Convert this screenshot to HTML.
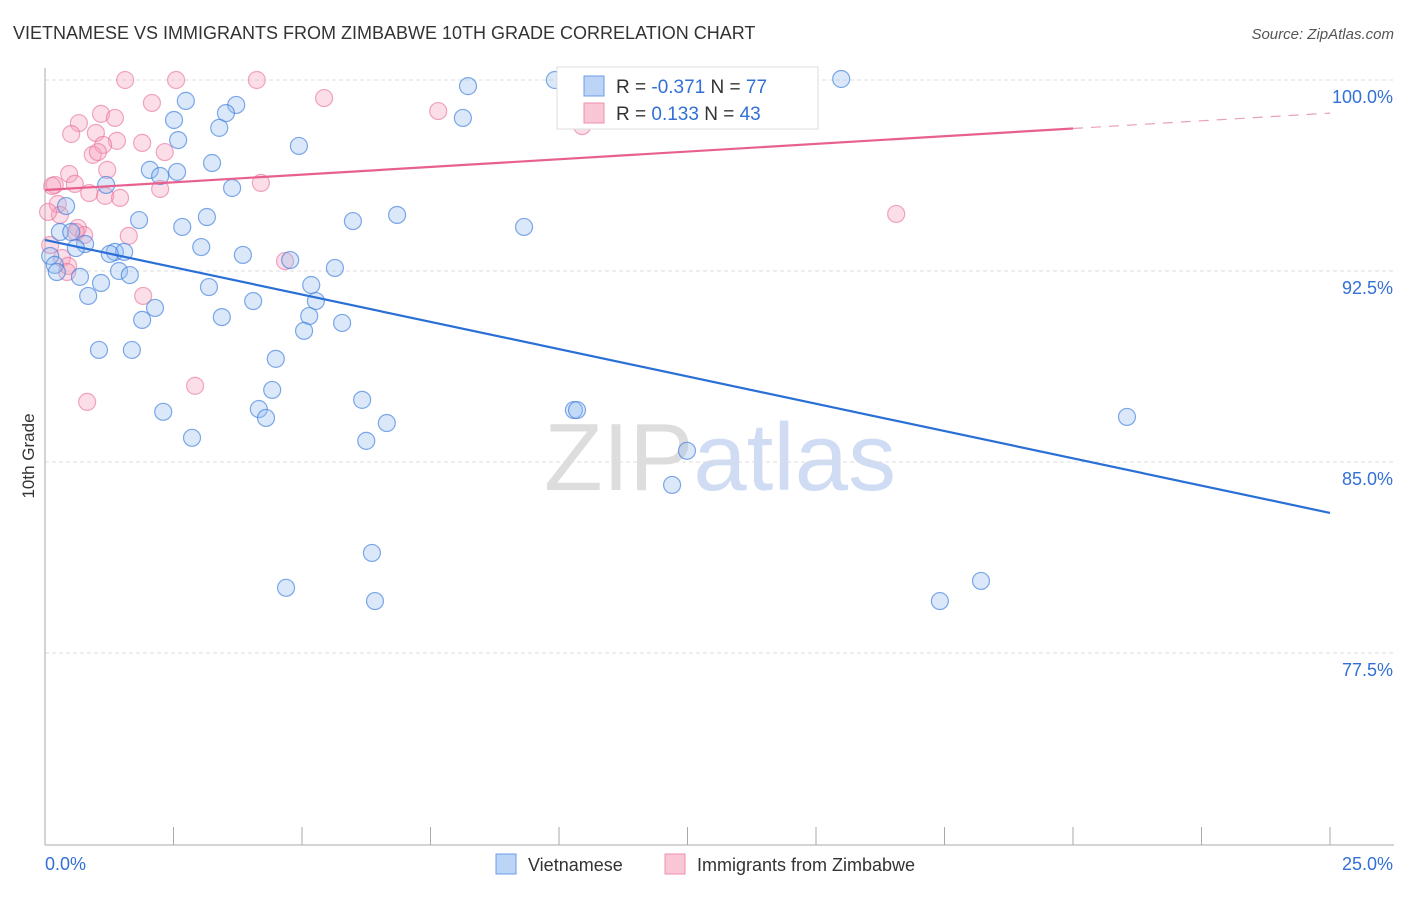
<!DOCTYPE html>
<html><head><meta charset="utf-8"><style>
body{margin:0;background:#fff;font-family:"Liberation Sans",sans-serif;}
svg text{font-family:"Liberation Sans",sans-serif;}
</style></head><body>
<svg id="chart" width="1406" height="892" xmlns="http://www.w3.org/2000/svg">
<text x="13" y="39" font-size="18" fill="#333">VIETNAMESE VS IMMIGRANTS FROM ZIMBABWE 10TH GRADE CORRELATION CHART</text>
<text x="1394" y="39" font-size="15" fill="#555" text-anchor="end" font-style="italic">Source: ZipAtlas.com</text>
<text x="720" y="490" font-size="96" fill="#ddd" text-anchor="middle" font-family="Liberation Serif">ZIP<tspan fill="#cfdcf3" font-family="Liberation Sans">atlas</tspan></text>
<g id="grid"></g>
<g id="axes"></g>
<g id="pts"></g>
<g id="lines"></g>
<text transform="translate(34,456) rotate(-90)" font-size="17" fill="#333" text-anchor="middle">10th Grade</text>
<g>
<rect x="557" y="67" width="261" height="62" fill="#fff" stroke="#ddd"/>
<rect x="584" y="76" width="20" height="20" fill="#bcd4f5" stroke="#6d9de6"/>
<rect x="584" y="103" width="20" height="20" fill="#f9c6d5" stroke="#ee8fab"/>
<text x="616" y="93" font-size="19" fill="#333">R = <tspan fill="#3370d6">-0.371</tspan>   N = <tspan fill="#3370d6">77</tspan></text>
<text x="616" y="120" font-size="19" fill="#333">R =  <tspan fill="#3370d6"> 0.133</tspan>   N = <tspan fill="#3370d6">43</tspan></text>
</g>
<g>
<rect x="496" y="854" width="20" height="20" fill="#bcd4f5" stroke="#6d9de6"/>
<text x="528" y="871" font-size="18" fill="#333">Vietnamese</text>
<rect x="665" y="854" width="20" height="20" fill="#f9c6d5" stroke="#ee8fab"/>
<text x="697" y="871" font-size="18" fill="#333">Immigrants from Zimbabwe</text>
</g>
</svg>
<script>
const blueX=[9.92,15.49,8.23,2.74,3.72,3.52,8.13,2.51,3.39,2.59,4.94,3.25,2.04,2.57,2.24,1.19,3.64,0.41,1.83,3.15,5.99,6.85,9.32,2.67,0.29,0.51,0.78,0.60,3.04,1.36,1.54,1.26,3.85,4.77,0.10,0.19,0.23,1.44,0.68,1.65,5.64,1.09,0.84,3.19,5.18,4.05,5.27,2.14,1.89,3.44,5.14,5.78,5.04,1.05,1.69,4.49,4.42,6.17,4.16,2.30,10.29,10.35,4.30,6.65,21.05,2.86,6.25,12.49,12.20,6.36,4.69,6.42,18.21,17.41];
const blueY=[100,100.04,99.76,99.18,99.02,98.70,98.51,98.43,98.12,97.64,97.41,96.74,96.47,96.39,96.23,95.88,95.76,95.05,94.50,94.62,94.46,94.70,94.23,94.23,94.03,94.03,93.56,93.40,93.44,93.25,93.25,93.17,93.13,92.93,93.09,92.74,92.46,92.50,92.27,92.34,92.62,92.03,91.52,91.87,91.95,91.32,91.32,91.05,90.58,90.69,90.73,90.46,90.15,89.40,89.40,89.05,87.83,87.44,87.08,86.97,87.04,87.04,86.73,86.53,86.77,85.95,85.83,85.44,84.10,81.43,80.06,79.54,80.33,79.54];
const pinkX=[1.56,2.55,4.12,2.08,5.43,7.65,1.09,1.36,0.66,0.99,0.51,1.89,1.40,1.13,0.93,1.03,2.33,1.21,0.47,0.19,0.58,4.20,2.24,0.14,0.86,1.17,1.46,0.25,0.29,0.64,0.76,0.60,1.63,0.33,0.45,0.43,4.67,1.91,2.92,0.82,10.45,16.56,0.06,0.10];
const pinkY=[100,100,100,99.10,99.29,98.78,98.67,98.51,98.31,97.92,97.88,97.53,97.61,97.45,97.06,97.17,97.17,96.47,96.31,95.88,95.92,95.96,95.72,95.84,95.56,95.45,95.37,95.13,94.70,94.19,93.91,94.03,93.88,93.01,92.70,92.46,92.89,91.52,87.99,87.36,98.19,94.74,94.82,93.52];
const blueTrend=[93.72,83.0];
const pinkTrend=[95.68,98.7];
const yTicks=[100,92.5,85,77.5];
const yTickLabels=["100.0%","92.5%","85.0%","77.5%"];
const xTickVals=[0,2.5,5,7.5,10,12.5,15,17.5,20,22.5,25];
const NS="http://www.w3.org/2000/svg";
const X0=45,X1=1330,YTOP=80,PXPER=191/7.5;
const sx=v=>X0+(v/25)*(X1-X0);
const sy=v=>YTOP+(100-v)*PXPER;
function mk(tag,parent,attrs){const e=document.createElementNS(NS,tag);for(const k in attrs)e.setAttribute(k,attrs[k]);document.getElementById(parent).appendChild(e);return e;}
yTicks.forEach((t,i)=>{
 const l=mk('line','grid',{x1:X0,x2:1394,y1:sy(t),y2:sy(t),stroke:'#ddd','stroke-dasharray':'4 3'});
 
 
 const tx=mk('text','grid',{x:1393,y:sy(t)+23,'font-size':18,fill:'#3370d6','text-anchor':'end'});
 tx.textContent=yTickLabels[i];
 
 
});
const ya=mk('line','axes',{x1:X0,x2:X0,y1:68,y2:845,stroke:'#aaa'});


const xa=mk('line','axes',{x1:X0,x2:1394,y1:845,y2:845,stroke:'#aaa'});


xTickVals.forEach(v=>{const t=mk('line','axes',{x1:sx(v),x2:sx(v),y1:827,y2:845,stroke:'#aaa'});
 
 });
const xl0=mk('text','axes',{x:45,y:870,'font-size':18,fill:'#3370d6'});xl0.textContent='0.0%';


const xl1=mk('text','axes',{x:1393,y:870,'font-size':18,fill:'#3370d6','text-anchor':'end'});xl1.textContent='25.0%';


pinkX.forEach((v,i)=>{const c=mk('circle','pts',{cx:sx(v),cy:sy(pinkY[i]),r:8.5,fill:'rgba(245,160,188,0.35)',stroke:'rgba(232,110,150,0.6)','stroke-width':1.2});
 
 });
blueX.forEach((v,i)=>{const c=mk('circle','pts',{cx:sx(v),cy:sy(blueY[i]),r:8.5,fill:'rgba(150,190,240,0.35)',stroke:'rgba(60,125,220,0.65)','stroke-width':1.2});
 
 });
const bl=mk('line','lines',{x1:sx(0),y1:sy(blueTrend[0]),x2:sx(25),y2:sy(blueTrend[1]),stroke:'#2a6fd6','stroke-width':2.2});


const pm=pinkTrend[0]+(pinkTrend[1]-pinkTrend[0])*0.8;
const pl=mk('line','lines',{x1:sx(0),y1:sy(pinkTrend[0]),x2:sx(20),y2:sy(pm),stroke:'#e8608e','stroke-width':2.2});


const pd=mk('line','lines',{x1:sx(20),y1:sy(pm),x2:sx(25),y2:sy(pinkTrend[1]),stroke:'#e8a0b8','stroke-width':1.2,'stroke-dasharray':'10 8'});


</script>
</body></html>
